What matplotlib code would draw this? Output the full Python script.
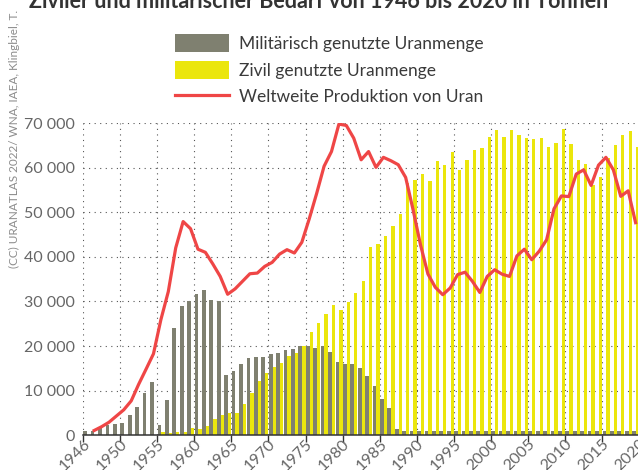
import numpy as np
import matplotlib
matplotlib.use('Agg')
import matplotlib.pyplot as plt
from matplotlib.transforms import ScaledTranslation

plt.rcParams['font.family'] = ['Lato', 'DejaVu Sans']

# Jahre 1946 bis 2020
years = list(range(1946, 2021))

# militärisch genutzte Uranmenge (t)
military = [1000, 1000, 1700, 2300, 2500, 2800, 4600, 6400, 9500, 11900,
            2300, 8000, 24000, 29000, 30100, 31700, 32600, 30400, 30100, 13600,
            14450, 15900, 17400, 17600, 17600, 18100, 18500, 19200, 19400, 19950,
            20100, 19500, 19950, 18600, 16400, 15900, 15900, 15000, 13200, 11000,
            8200, 6100, 1400] + [1000] * 32

# zivil genutzte Uranmenge (t)
civil = [0] * 10 + [750, 600, 750, 750, 1640, 1400, 2160, 3650, 4540, 5000,
                    5000, 7070, 9460, 12140, 13920, 15260, 16230, 17800, 18390, 19950,
                    23150, 25150, 27170, 29150, 28050, 29900, 31850, 34500, 42150, 42800,
                    44600, 46850, 49700, 56500, 57200, 58550, 56950, 61450, 60500, 63600,
                    59450, 61700, 63900, 64350, 66850, 68400, 66850, 68400, 67300, 66600,
                    66400, 66600, 64600, 65500, 68650, 65300, 61700, 60800, 56000, 57850,
                    62250, 65000, 67300, 68200, 64600]

# weltweite Produktion von Uran (t)
production = [np.nan, 1050, 1900, 2900, 4300, 5700, 7700, 11400, 14800, 18250,
              25900, 32200, 42000, 47900, 46300, 41700, 41000, 38400, 35600, 31600,
              32800, 34500, 36200, 36350, 37850, 38750, 40600, 41600, 40850, 43250,
              48500, 54200, 60300, 63600, 69750, 69450, 66600, 61750, 63600, 60050,
              62300, 61550, 60650, 57800, 50550, 42700, 36150, 33150, 31500, 33000,
              36000, 36550, 34500, 32000, 35600, 37100, 36100, 35600, 40200, 41700,
              39350, 41250, 43800, 50750, 53650, 53500, 58550, 59500, 56000, 60550,
              62300, 59500, 53550, 54800, 47650]

tick_years = [1946] + list(range(1950, 2021, 5))
y_ticks = list(range(0, 70001, 10000))

gray = '#7f8070'
yellow = '#ebe60c'
red = '#ef4646'

fig = plt.figure(figsize=(6.38, 4.70), dpi=100)
ax = fig.add_axes([83 / 638, 34.8 / 470, 556.3 / 638, 312.2 / 470])

x = np.arange(len(years))
b1 = ax.bar(x + 0.3, military, width=0.5, color=gray, zorder=2)
b2 = ax.bar(x + 0.775, civil, width=0.45, color=yellow, zorder=2)
l1, = ax.plot(x + 0.5, production, color=red, lw=2.3, zorder=3)

ax.set_xlim(0, len(years))
ax.set_ylim(0, 70000)

# erste Marke am linken Rand, die anderen jeweils am Ende des Jahres
tick_pos = [0] + [y - years[0] + 1 for y in tick_years[1:]]
ax.set_xticks(tick_pos)
ax.set_xticklabels([str(y) for y in tick_years], rotation=45, ha='right',
                   rotation_mode='anchor', color='#666666', fontsize=11.5)
for lab in ax.get_xticklabels():
    lab.set_transform(lab.get_transform() + ScaledTranslation(4 / 72, 0, fig.dpi_scale_trans))

ax.set_yticks(y_ticks)
ax.set_yticklabels([f'{v:,}'.replace(',', ' ') for v in y_ticks], color='#666666', fontsize=11.5)

ax.tick_params(axis='x', direction='out', length=5, width=1, color='#333333', pad=-4)
ax.tick_params(axis='y', length=0, pad=6)

for s in ['top', 'right', 'left']:
    ax.spines[s].set_visible(False)
ax.spines['bottom'].set_color('#333333')
ax.spines['bottom'].set_linewidth(1.1)
ax.spines['bottom'].set_zorder(4)

ax.grid(True, color='#555555', linestyle=(0, (1, 4)), linewidth=0.8)
ax.set_axisbelow(True)

fs = 12.5
ax.legend([b1, b2, l1],
          ['Militärisch genutzte Uranmenge', 'Zivil genutzte Uranmenge',
           'Weltweite Produktion von Uran'],
          loc='upper left', bbox_to_anchor=(175 / 638, 1 - 34 / 470),
          bbox_transform=fig.transFigure, frameon=False, fontsize=fs,
          handlelength=54 / (fs * 100 / 72), handleheight=1.25, labelspacing=0.48,
          handletextpad=0.55, borderpad=0, borderaxespad=0, labelcolor='#3a3a3a')

# Titel ist im Original oben abgeschnitten
fig.text(0.5, 1 - 8 / 470, 'Ziviler und militärischer Bedarf von 1946 bis 2020 in Tonnen',
         ha='center', va='baseline', fontsize=15.5, fontweight='bold', color='#333333')
fig.text(14 / 638, 1 - 268 / 470, '(CC) URANATLAS 2022/ WNA, IAEA, Klingbiel, T.',
         rotation=90, ha='center', va='bottom', fontsize=8.5, color='#8c8c8c')

fig.savefig('out.png', dpi=100)
